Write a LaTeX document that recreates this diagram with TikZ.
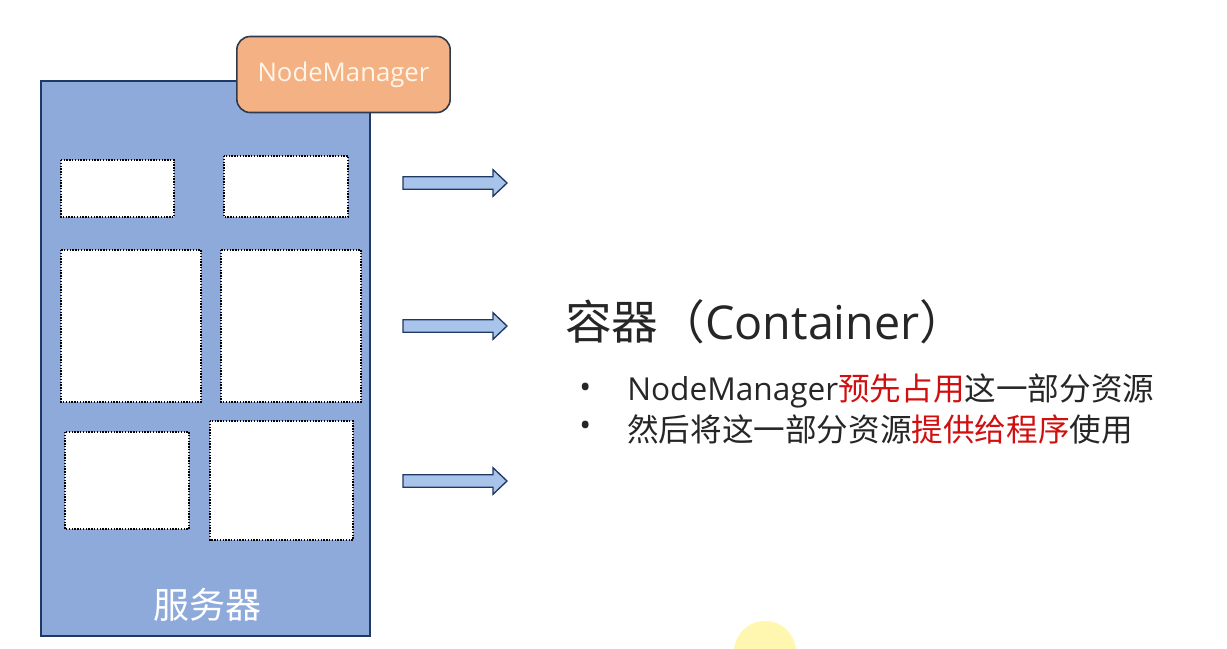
\documentclass[tikz,border=0pt]{standalone}
\usepackage{fontspec}
\setmainfont{Noto Sans CJK SC}
\newfontfamily\latfont{Open Sans}
\definecolor{srvfill}{HTML}{8EAADB}
\definecolor{navy}{HTML}{1F3864}
\definecolor{nmfill}{HTML}{F4B183}
\definecolor{nmline}{HTML}{2E3A4E}
\definecolor{arrfill}{HTML}{A9C4EB}
\definecolor{txt}{HTML}{262626}
\definecolor{hl}{HTML}{D01010}
\definecolor{nmtext}{HTML}{FFF6EA}
\definecolor{cursor}{HTML}{FFF6B0}
\begin{document}
\begin{tikzpicture}[x=0.75pt,y=-0.75pt,
  slot/.style={draw=black,fill=white,densely dotted,line width=1.1pt},
  blockarrow/.style={draw=navy,fill=arrfill,line width=1pt,line join=miter},
  bullettext/.style={anchor=west,text=txt,font=\fontsize{23.7}{28}\selectfont,inner sep=0pt}]
\useasboundingbox (0,0) rectangle (1227,649);
\begin{scope}
\clip (0,0) rectangle (1227,649);
\fill[cursor] (765,652) circle (31);
\end{scope}
% server
\draw[fill=srvfill,draw=navy,line width=1.2pt] (41,81) rectangle (370,636);
% slots
\draw[slot] (61,160) rectangle (174,217);
\draw[slot] (224,156) rectangle (348,217);
\draw[slot] (61,250) rectangle (201,402);
\draw[slot] (221,250) rectangle (361,402);
\draw[slot] (65,432) rectangle (189,529);
\draw[slot] (210,421) rectangle (353,540);
\node[text=white,font=\fontsize{27}{30}\selectfont] (srvlabel) at (207,605) {服务器};
% NodeManager
\node[draw=nmline,fill=nmfill,line width=1.2pt,rounded corners=10pt,
  minimum width=160pt,minimum height=57pt,text=nmtext,
  font=\latfont\fontsize{19.3}{22}\selectfont] (nm) at (343.5,74.5) {NodeManager};
% block arrows
\foreach \yc in {183,326,481}{
  \draw[blockarrow] (403,\yc-6.3) -- (493,\yc-6.3) -- (493,\yc-13.3) -- (507,\yc)
    -- (493,\yc+13.3) -- (493,\yc+6.3) -- (403,\yc+6.3) -- cycle;
}
% text
\node[anchor=west,text=txt,font=\fontsize{35}{40}\selectfont,inner sep=0pt] (title) at (565,322) {容器（{\latfont Container}）};
\node[bullettext,font=\latfont\fontsize{23.7}{28}\selectfont] (b1dot) at (579,391) {•};
\node[bullettext] (b1) at (627,391) {{\latfont NodeManager}\textcolor{hl}{预先占用}这一部分资源};
\node[bullettext,font=\latfont\fontsize{23.7}{28}\selectfont] (b2dot) at (579,429) {•};
\node[bullettext] (b2) at (627,429) {然后将这一部分资源\textcolor{hl}{提供给程序}使用};
\end{tikzpicture}
\end{document}
